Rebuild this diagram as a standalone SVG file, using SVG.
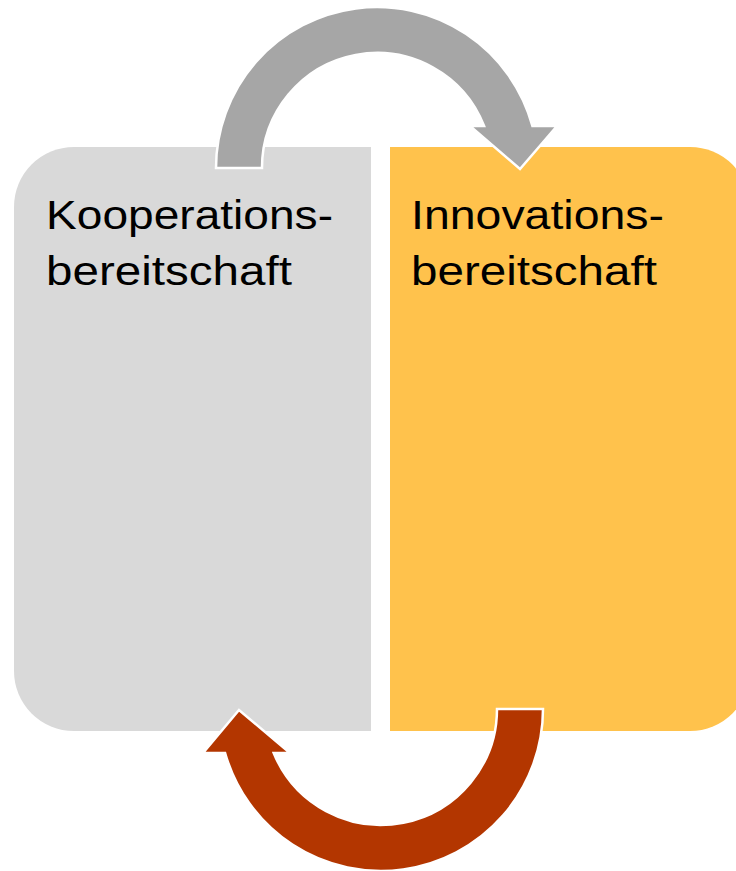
<svg xmlns="http://www.w3.org/2000/svg" width="736" height="871" viewBox="0 0 736 871">
<style>
.lbl{font-family:"Liberation Sans","Noto Sans",sans-serif;font-size:41px;fill:#000}
.arrow{stroke:#fff;stroke-width:2.5;stroke-linejoin:miter}
</style>
<rect width="736" height="871" fill="#fff"/>
<g id="node-kooperation">
<path d="M371 147 L74 147 A60 60 0 0 0 14 207 L14 671 A60 60 0 0 0 74 731 L371 731 Z" fill="#D9D9D9"/>
<text class="lbl" x="46" y="229" textLength="287" lengthAdjust="spacingAndGlyphs">Kooperations-</text>
<text class="lbl" x="46" y="285" textLength="246" lengthAdjust="spacingAndGlyphs">bereitschaft</text>
</g>
<g id="node-innovation">
<path d="M390 147 L690 147 A60 60 0 0 1 750 207 L750 671 A60 60 0 0 1 690 731 L390 731 Z" fill="#FFC24C"/>
<text class="lbl" x="411" y="229" textLength="253" lengthAdjust="spacingAndGlyphs">Innovations-</text>
<text class="lbl" x="411" y="285" textLength="246" lengthAdjust="spacingAndGlyphs">bereitschaft</text>
</g>
<g id="connectors">
<path class="arrow" fill="#A6A6A6" d="M216 168 A161 161 0 0 1 532.4 126 L557 126 L520 169 L470 126 L484.1 126 A115 115 0 0 0 262 168 Z"/>
<path class="arrow" fill="#B33600" d="M497 709 L543 709 A162 162 0 0 1 225.1 753 L203 753 L239 710 L290 753 L273.7 753 A116 116 0 0 0 497 709 Z"/>
</g>
</svg>
